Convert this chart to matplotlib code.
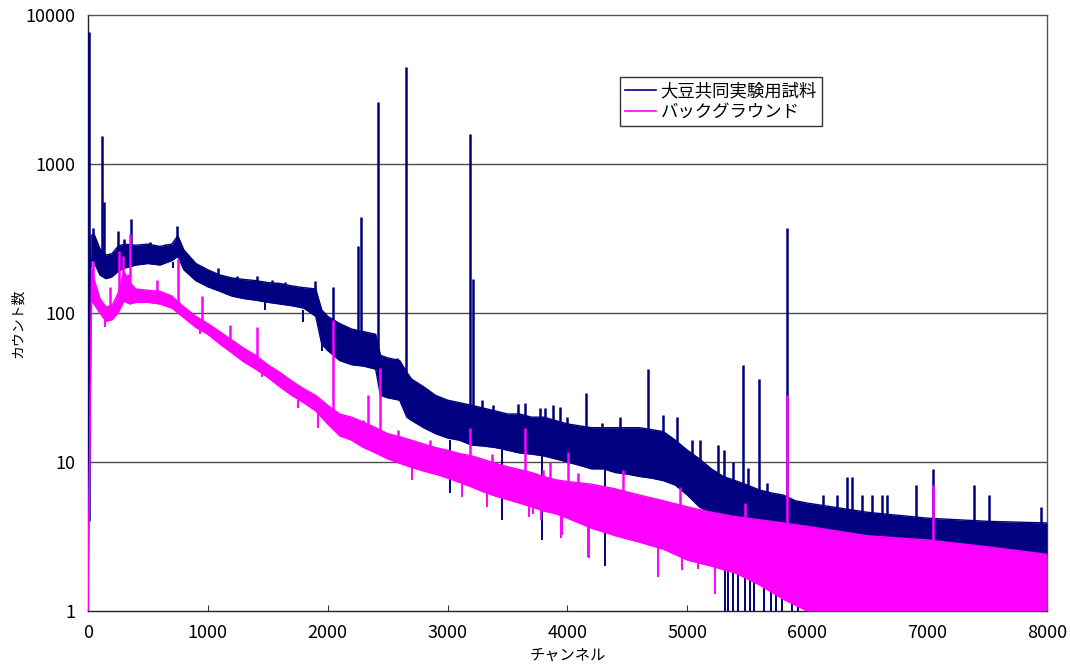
"""Gamma-ray spectrum: soybean sample vs background (log counts per channel)."""
import matplotlib
matplotlib.use("Agg")
import matplotlib.pyplot as plt
from matplotlib.ticker import FixedLocator, NullLocator, FixedFormatter

plt.rcParams["font.family"] = ["Noto Sans CJK JP", "DejaVu Sans"]

NAVY = "#000080"
MAGENTA = "#ff00ff"

# ── sample (大豆共同実験用試料): band envelope ───────────────────────────────
sample_ch = [0, 25, 50, 100, 150, 200, 250, 300, 400, 500, 600, 700, 750, 800, 900,
             1000, 1100, 1200, 1300, 1400, 1500, 1600, 1700, 1800, 1900, 1950, 2000,
             2100, 2200, 2300, 2400, 2440, 2500, 2600, 2660, 2700, 2800, 2900, 3000,
             3100, 3200, 3300, 3400, 3500, 3600, 3700, 3800, 3900, 4000, 4100, 4200,
             4300, 4400, 4500, 4600, 4700, 4800, 4900, 5000, 5100, 5200, 5300, 5400,
             5500, 5600, 5700, 5800, 5900, 6000, 6500, 7000, 7500, 8000]
sample_hi = [4, 330, 340, 270, 245, 250, 280, 290, 285, 290, 280, 290, 330, 265, 215,
             195, 180, 172, 168, 165, 160, 158, 152, 148, 145, 105, 95,
             85, 78, 75, 72, 52, 50, 48, 40, 36, 32, 28, 26,
             25, 24, 23, 22, 21, 21, 20, 20, 19, 18, 17.5, 17,
             17, 17, 17, 17, 16.5, 16, 14, 12, 10.5, 9, 8, 7.5,
             7, 6.5, 6.2, 6, 5.5, 5.3, 4.6, 4.2, 4, 3.9]
sample_lo = [4, 230, 220, 180, 170, 175, 190, 200, 210, 215, 210, 225, 240, 195, 165,
             150, 140, 130, 125, 122, 118, 115, 112, 108, 95, 62, 56,
             48, 45, 44, 42, 28, 27, 26, 20, 19, 17, 15.5, 14.5,
             14, 13, 12.8, 12.5, 12, 11.5, 11.3, 11, 10.5, 10, 9.5, 9,
             9, 8.5, 8.3, 8, 7.8, 7.5, 7, 6, 5, 4.5, 4, 3.5,
             3.3, 3, 3, 2.8, 2.7, 2.7, 2.6, 2.5, 2.4, 2.3]

# peaks and upward spikes: channel, foot, top
sample_peak_ch = [12, 40, 120, 132, 250, 303, 355, 517, 642, 740, 865, 1087, 1240,
                  1407, 1532, 1643, 1894, 2040, 2252, 2277, 2422, 2575, 2652, 2755,
                  2825, 2978, 3089, 3187, 3208, 3284, 3381, 3589, 3645, 3771, 3812,
                  3876, 3937, 3993, 4151, 4285, 4438, 4669, 4799, 4911, 5036, 5105,
                  5258, 5305, 5380, 5461, 5508, 5600, 5661, 5833, 6134, 6250, 6334,
                  6370, 6454, 6537, 6620, 6662, 6907, 7050, 7391, 7519, 7947]
sample_peak_base = [4, 250, 200, 200, 200, 220, 230, 240, 230, 250, 200, 170, 150,
                    140, 135, 130, 120, 60, 50, 50, 45, 30, 25, 20,
                    18, 16, 15, 15, 15, 14, 13, 12, 12, 12, 12,
                    11, 11, 11, 10, 10, 9, 9, 8, 8, 7, 6,
                    5, 5, 4, 4, 4, 4, 3.5, 3, 3, 3, 3,
                    3, 3, 3, 3, 3, 3, 3, 3, 3, 3]
sample_peak_top = [7700, 370, 1550, 560, 357, 313, 430, 300, 292, 385, 230, 199, 178,
                   176, 166, 161, 165, 150, 280, 440, 2600, 50, 4450, 31.7,
                   31, 26.6, 24.6, 1600, 170, 26, 24, 24.6, 25, 23, 23,
                   24, 23.4, 20, 29, 18.2, 20, 42, 20.6, 20, 14, 14,
                   13, 12, 10, 45, 9.1, 36, 7.2, 370, 6, 6, 7.9,
                   7.9, 6, 6, 6, 6, 7, 9, 7, 6, 5]

# downward spikes: channel, top, bottom
sample_dip_ch = [712, 990, 1476, 1796, 1949, 2019, 3020, 3451, 3785, 4313, 5310, 5340,
                 5380, 5420, 5480, 5520, 5560, 5640, 5700, 5740, 5790, 5870, 5920]
sample_dip_top = [220, 160, 120, 105, 70, 60, 14, 12, 11, 9, 4, 4,
                  4, 3.5, 3.5, 3.3, 3.3, 3, 3, 3, 3, 2.8, 2.8]
sample_dip_bottom = [199, 149, 104, 87, 56, 54, 6.2, 4.1, 3, 2, 1, 1,
                     1, 1, 1, 1, 1, 1, 1, 1, 1, 1, 1]

# ── background (バックグラウンド) ─────────────────────────────────────────────
bg_ch = [0, 30, 50, 100, 150, 200, 250, 300, 350, 400, 500, 600, 700, 800, 900,
         1000, 1100, 1200, 1300, 1400, 1500, 1600, 1700, 1800, 1900, 2000, 2100,
         2200, 2300, 2400, 2500, 2600, 2700, 2800, 2900, 3000, 3100, 3200, 3300,
         3400, 3500, 3600, 3700, 3800, 3900, 4000, 4200, 4400, 4600, 4800, 5000,
         5200, 5400, 5600, 5800, 6000, 6500, 7000, 7500, 8000]
bg_hi = [1, 200, 170, 125, 110, 112, 135, 190, 160, 145, 142, 140, 130, 110, 95,
         85, 75, 66, 58, 52, 45, 40, 35, 31, 28, 24, 21,
         20, 18.5, 17, 15.5, 14.8, 14, 13.2, 12.5, 12, 11.4, 11, 10.4,
         9.8, 9.3, 8.9, 8.5, 8, 7.6, 7.4, 7.1, 6.6, 6, 5.5, 5,
         4.6, 4.3, 4.1, 3.9, 3.7, 3.2, 3, 2.7, 2.4]
bg_lo = [1, 120, 115, 100, 88, 90, 100, 120, 115, 118, 118, 115, 108, 93, 80,
         72, 62, 54, 47, 42, 37, 32, 28, 25, 22, 18, 15,
         14, 12.5, 11.5, 10.5, 9.8, 9.2, 8.7, 8.3, 7.8, 7.3, 6.8, 6.3,
         5.9, 5.6, 5.3, 5, 4.7, 4.5, 4.2, 3.6, 3.2, 2.9, 2.6, 2.2,
         2, 1.8, 1.5, 1.2, 1, 1, 1, 1, 1]

bg_peak_ch = [40, 184, 255, 290, 331, 352, 578, 750, 950, 1185, 1410, 2040, 2297,
              2335, 2436, 2589, 2853, 3190, 3367, 3645, 3798, 3854, 4006, 4090,
              4466, 4938, 5481, 5833, 7050]
bg_peak_base = [120, 100, 110, 120, 130, 130, 120, 110, 80, 60, 45, 20, 13,
                13, 12, 10, 8.5, 8, 7, 6, 5, 5, 4.5, 4.2,
                3.5, 3, 2, 2, 2]
bg_peak_top = [225, 149, 260, 240, 184, 340, 166, 230, 131, 83, 80, 90, 19,
               28, 43, 16.3, 14, 17, 11.4, 17, 8.8, 10, 11.7, 8.4,
               8.8, 6.8, 5.3, 28, 7]

# downward spikes of the background: channel, top, bottom
bg_dip_ch = [142, 934, 1449, 1754, 1921, 2700, 3117, 3326, 3679, 3715, 3776, 3942,
             3951, 4173, 4180, 4757, 4952, 5088, 5230]
bg_dip_top = [95, 85, 42, 26, 22, 9.5, 7.5, 6.5, 5.5, 5.5, 5.2, 5,
              4.8, 4, 4, 3, 2.5, 2.4, 2.2]
bg_dip_bottom = [80.5, 72.6, 37, 23, 16.8, 7.6, 5.8, 5, 4.3, 4.5, 4.07, 3.1,
                 3.23, 2.3, 2.27, 1.7, 1.88, 1.9, 1.31]

Y_TICKS = [1, 10, 100, 1000, 10000]
X_TICKS = [0, 1000, 2000, 3000, 4000, 5000, 6000, 7000, 8000]


def draw_series(ax, ch, hi, lo, pk_ch, pk_base, pk_top, dip_ch, dip_top, dip_bottom,
                color, label, zorder):
    ax.fill_between(ch, lo, hi, color=color, linewidth=0, zorder=zorder)
    ax.plot(ch, hi, color=color, lw=1.0, zorder=zorder, label=label)
    ax.plot(ch, lo, color=color, lw=1.0, zorder=zorder)
    ax.vlines(pk_ch, pk_base, pk_top, color=color, lw=1.8, zorder=zorder)
    ax.vlines(dip_ch, dip_bottom, dip_top, color=color, lw=1.4, zorder=zorder)


fig = plt.figure(figsize=(10.7, 6.71), dpi=100)
ax = fig.add_axes([0.0822, 0.0894, 0.8963, 0.8882])

draw_series(ax, sample_ch, sample_hi, sample_lo, sample_peak_ch, sample_peak_base,
            sample_peak_top, sample_dip_ch, sample_dip_top, sample_dip_bottom,
            NAVY, "大豆共同実験用試料", 3)
draw_series(ax, bg_ch, bg_hi, bg_lo, bg_peak_ch, bg_peak_base, bg_peak_top,
            bg_dip_ch, bg_dip_top, bg_dip_bottom, MAGENTA, "バックグラウンド", 4)

ax.set_yscale("log")
ax.set_xlim(0, 8000)
ax.set_ylim(1, 10000)
ax.yaxis.set_major_locator(FixedLocator(Y_TICKS))
ax.yaxis.set_major_formatter(FixedFormatter([str(v) for v in Y_TICKS]))
ax.yaxis.set_minor_locator(NullLocator())
ax.set_xticks(X_TICKS)
ax.set_xticklabels([str(v) for v in X_TICKS])

for y in [10, 100, 1000]:
    ax.axhline(y, color="#4d4d4d", lw=1.0, zorder=1)

ax.tick_params(axis="x", direction="in", length=4, labelsize=13, pad=9, color="#333333")
ax.tick_params(axis="y", direction="out", length=0, labelsize=13, pad=9)
for s in ax.spines.values():
    s.set_color("#555555")
    s.set_linewidth(1.0)
ax.spines["bottom"].set_color("#222222")
ax.spines["left"].set_color("#222222")

ax.set_xlabel("チャンネル", fontsize=11, labelpad=4)
ax.set_ylabel("カウント数", fontsize=10)
ax.yaxis.set_label_coords(-0.066, 0.483)

leg = ax.legend(loc="upper left", bbox_to_anchor=(0.5547, 0.896), borderaxespad=0,
                fontsize=12.5, frameon=True, fancybox=False, handlelength=1.75,
                handletextpad=0.3, borderpad=0.3, labelspacing=0.15)
leg.get_frame().set_edgecolor("black")
leg.get_frame().set_linewidth(1.0)
for line in leg.get_lines():
    line.set_linewidth(1.2)

fig.savefig("out.png", dpi=100)
plt.close(fig)
